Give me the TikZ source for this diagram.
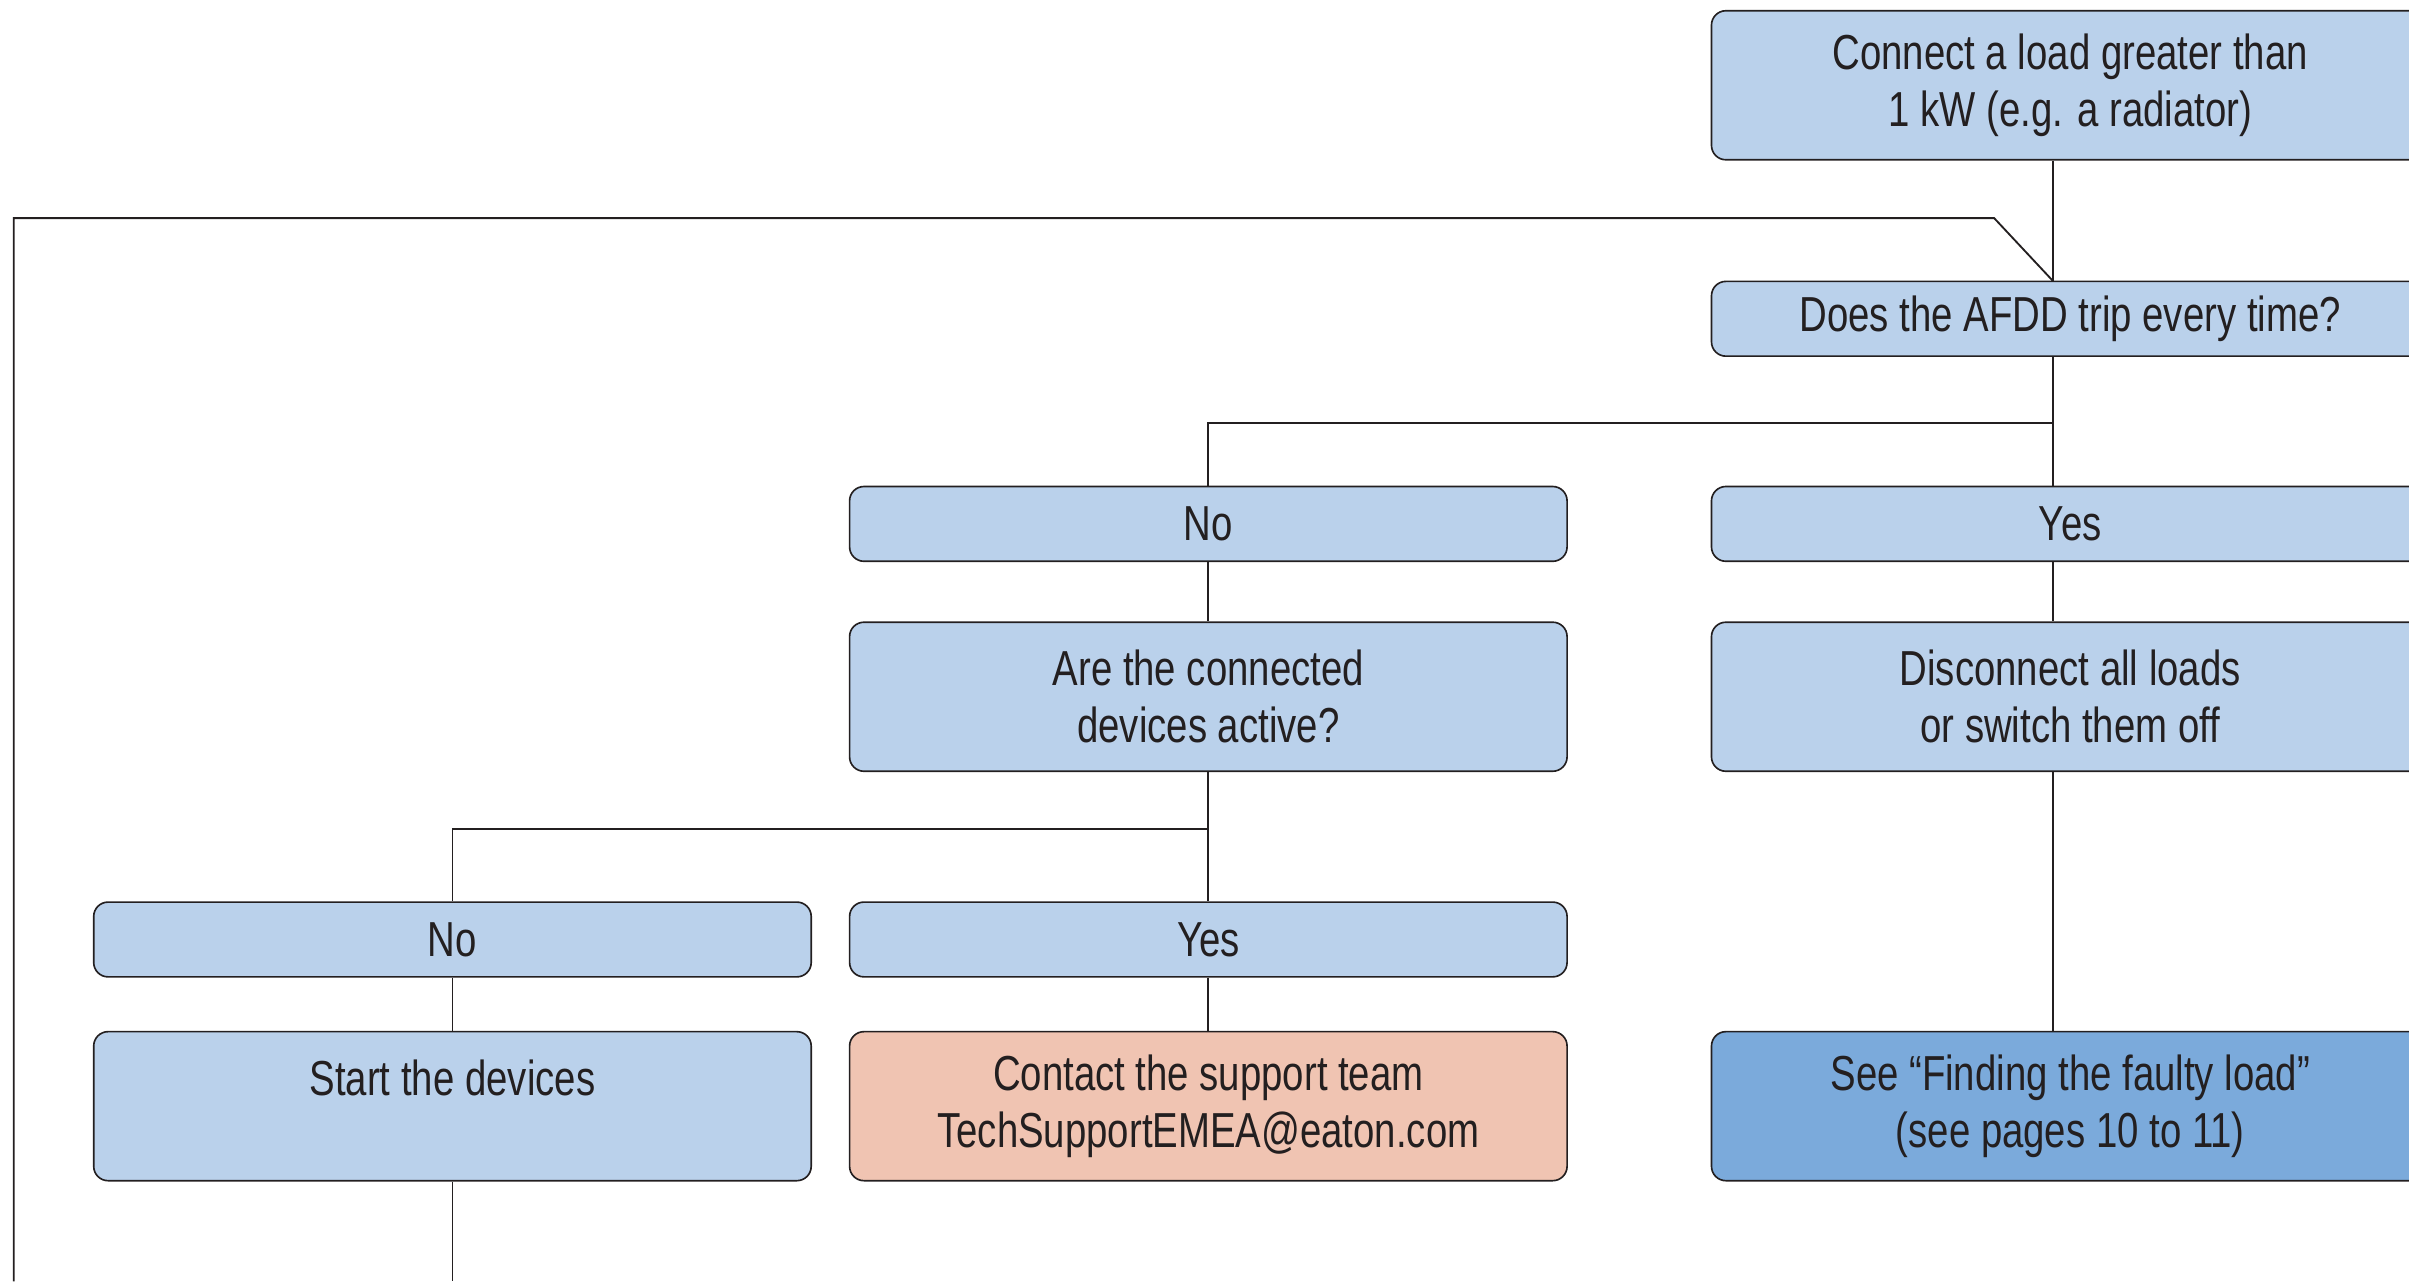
\documentclass[tikz,border=0pt]{standalone}
\usepackage{fontspec}
\setmainfont{Liberation Sans}[FakeStretch=0.78]
\usepackage{tikz,xcolor}

\definecolor{boxblue}{RGB}{186,209,235}
\definecolor{boxpeach}{RGB}{240,196,178}
\definecolor{boxdark}{RGB}{123,170,219}
\definecolor{inkgray}{RGB}{35,31,32}

\tikzset{
  stepbox/.style={draw=inkgray, line width=0.8pt, rounded corners=7pt, fill=boxblue,
    minimum width=350.25pt, inner sep=0pt, align=center, text=inkgray,
    font=\fontsize{24}{27.75}\selectfont},
  tallbox/.style={stepbox, minimum height=72.75pt},
  lowbox/.style={stepbox, minimum height=36.5pt},
  link/.style={draw=inkgray, line width=0.9pt}
}

\begin{document}
\begin{tikzpicture}[x=0.75pt,y=0.75pt,yscale=-1,xscale=1]
    \clip (0,0) rectangle (1568,834);

    % spine of the right column
    \coordinate (spine) at (1336,0);
    \coordinate (loopbot) at (9,834);
    \coordinate (looptop) at (9,142);
    \coordinate (loopbend) at (1298,142);
    \coordinate (startbot) at (294.5,834);

    % Boxes, right column
    \node [tallbox] (load) at (1347.5,55.5) {Connect a load greater than\\1 kW (e.g. a radiator)};
    \node [lowbox] (trip) at (1347.5,207.5) {Does the AFDD trip every time?};
    \node [lowbox] (yesA) at (1347.5,341) {Yes};
    \node [tallbox] (disconnect) at (1347.5,453.5) {Disconnect all loads\\or switch them off};
    \node [tallbox, fill=boxdark] (faulty) at (1347.5,720) {See “Finding the faulty load”\\(see pages 10 to 11)};

    % Boxes, middle column
    \node [lowbox] (noA) at (786.5,341) {No};
    \node [tallbox] (active) at (786.5,453.5) {Are the connected\\devices active?};
    \node [lowbox] (yesB) at (786.5,611.5) {Yes};
    \node [tallbox, fill=boxpeach] (support) at (786.5,720) {Contact the support team\\TechSupportEMEA@eaton.com};

    % Boxes, left column
    \node [lowbox] (noB) at (294.5,611.5) {No};
    \node [tallbox] (start) at (294.5,720) {Start the devices\\\phantom{X}};

    %Straight Lines
    \draw [link] (load.south -| spine) -- (trip.north -| spine);
    \draw [link] (trip.south -| spine) -- (yesA.north -| spine);
    \draw [link] (trip.south -| spine) -- ++(0,43) -| (noA.north);
    \draw [link] (yesA.south -| spine) -- (disconnect.north -| spine);
    \draw [link] (disconnect.south -| spine) -- (faulty.north -| spine);
    \draw [link] (noA.south) -- (active.north);
    \draw [link] (active.south) -- (yesB.north);
    \draw [link] (active.south) -- ++(0,37) -| (noB.north);
    \draw [link] (noB.south) -- (start.north);
    \draw [link] (yesB.south) -- (support.north);
    \draw [link] (start.south) -- (startbot);
    % loop back
    \draw [link] (loopbot) -- (looptop) -- (loopbend) -- (trip.north -| spine);
\end{tikzpicture}
\end{document}
